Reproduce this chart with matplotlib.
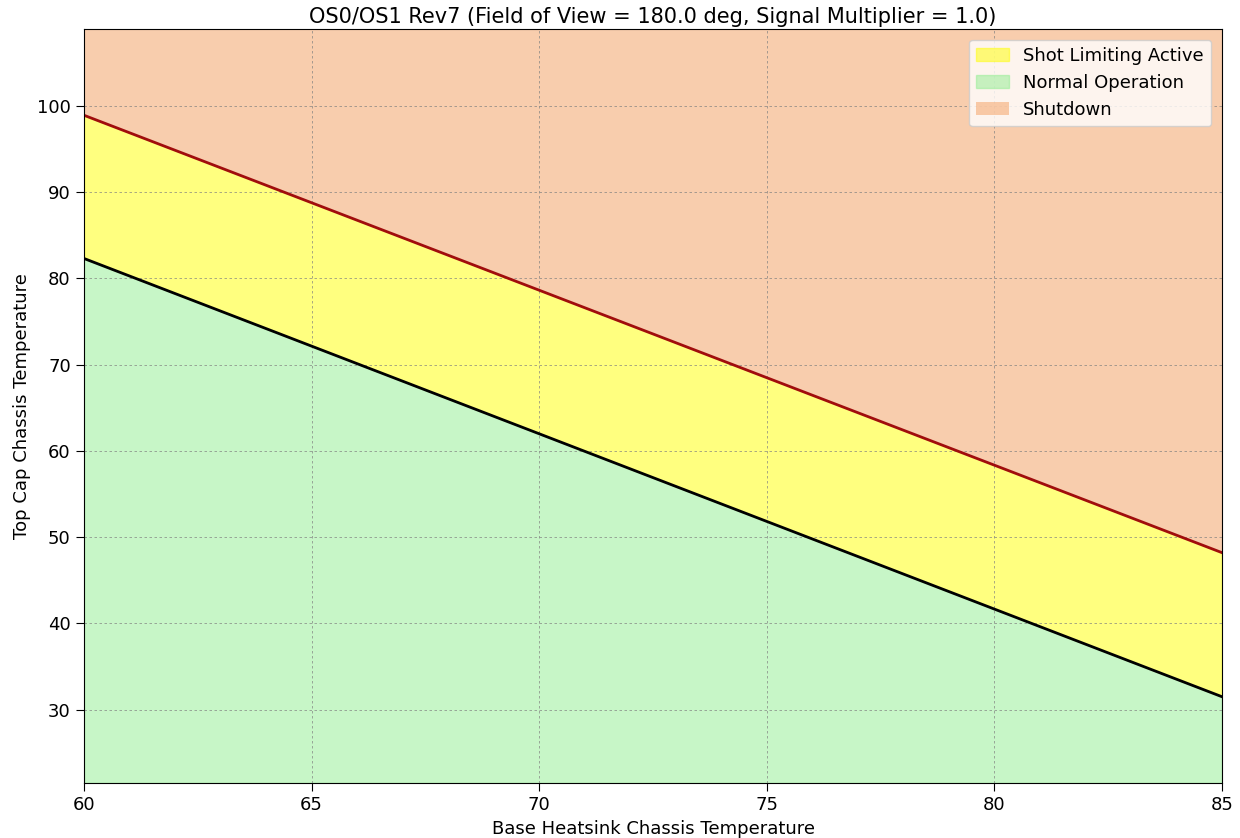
import numpy as np
import matplotlib.pyplot as plt

# boundary lines (endpoints at base temp 60 and 85)
base_temp = [60, 85]
shot_limit_start = [82.3, 31.5]
shutdown_temp = [98.9, 48.2]
y_lo, y_hi = 21.5, 108.9

fig = plt.figure(figsize=(12.4, 8.38), dpi=100)
ax = fig.add_axes([84/1240, 1 - 783/838, (1222-84)/1240, (783-29)/838])

x = np.array(base_temp)
ylow = np.array(shot_limit_start)
yhigh = np.array(shutdown_temp)

ax.fill_between(x, ylow, yhigh, color='yellow', alpha=0.5, label='Shot Limiting Active')
ax.fill_between(x, y_lo, ylow, color='lightgreen', alpha=0.5, label='Normal Operation')
ax.fill_between(x, yhigh, y_hi, color='#f4a46a', alpha=0.55, lw=0, label='Shutdown')
ax.plot(x, ylow, color='black', lw=2)
ax.plot(x, yhigh, color='#a00d0d', lw=2)

ax.set_xlim(60, 85)
ax.set_ylim(y_lo, y_hi)
ax.set_xticks([60, 65, 70, 75, 80, 85])
ax.set_yticks([30, 40, 50, 60, 70, 80, 90, 100])
ax.tick_params(labelsize=13, length=6)
ax.grid(True, linestyle=(0, (3, 3)), color='gray', linewidth=0.6, alpha=0.8)

ax.set_xlabel('Base Heatsink Chassis Temperature', fontsize=13, labelpad=4)
ax.set_ylabel('Top Cap Chassis Temperature', fontsize=13, labelpad=4)
ax.set_title('OS0/OS1 Rev7 (Field of View = 180.0 deg, Signal Multiplier = 1.0)', fontsize=15, pad=4)
ax.legend(loc='upper right', fontsize=13, handlelength=1.8, borderaxespad=0.6)

fig.savefig('out.png', dpi=100)
